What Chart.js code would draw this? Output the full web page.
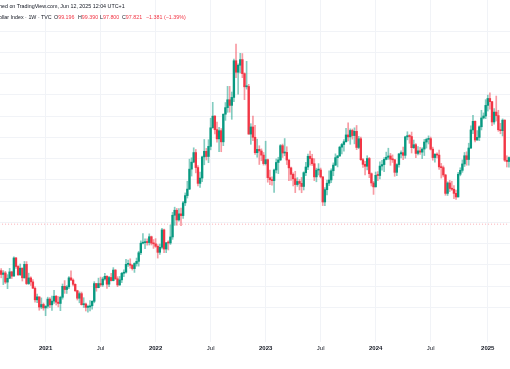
<!DOCTYPE html>
<html>
<head>
<meta charset="utf-8">
<title>U.S. Dollar Index 1W</title>
<script src="https://cdn.jsdelivr.net/npm/chart.js@4.4.1/dist/chart.umd.min.js"></script>
<style>
  html, body { margin: 0; padding: 0; background: #fff; overflow: hidden; }
  #wrap { position: relative; width: 510px; height: 369px; overflow: hidden; }
  #wrap canvas { position: absolute; left: -2px; top: 0; }
  .hdr { position: absolute; font-family: "Liberation Sans", Arial, sans-serif; font-size: 6px; line-height: 6px; color: #131722; white-space: nowrap; transform: scale(0.89); transform-origin: 0 0; }
  .red { color: #f23645; }
</style>
</head>
<body>
<div id="wrap">
  <canvas id="dxyChart" width="512" height="369"></canvas>
  <div class="hdr" style="left:-1px; top:4px">hed on TradingView.com, Jun 12, 2025 12:04 UTC+1</div>
  <div class="hdr" style="left:-1px; top:15px">ollar Index · 1W · TVC</div>
  <div class="hdr" style="left:54px; top:15px">O<span class="red">99.196</span></div>
  <div class="hdr" style="left:78px; top:15px">H<span class="red">99.390</span></div>
  <div class="hdr" style="left:100px; top:15px">L<span class="red">97.800</span></div>
  <div class="hdr" style="left:122px; top:15px">C<span class="red">97.821</span></div>
  <div class="hdr red" style="left:146px; top:15px">−1.381 (−1.39%)</div>
</div>
<script>
// weekly candles, first week starts 2020-08-03
const firstWeek = "2020-08-03";

const opens = [
  93.35, 93.44, 93.09, 93.23, 92.37, 92.73, 93.33, 92.93, 94.64, 93.84, 93.06, 93.68, 92.77, 94.04, 92.23, 92.76, 92.39, 91.79, 90.70, 90.98, 90.02, 90.26,
  89.94, 90.10, 90.77, 90.23, 90.58, 91.04, 90.48, 90.36, 90.94, 91.97, 91.67, 91.92, 92.77, 92.56, 92.16, 91.56, 90.85, 91.28, 90.24, 90.31, 89.99, 90.03, 90.14, 90.56,
  92.23, 91.84, 92.23, 92.11, 92.66, 92.91, 92.17, 92.80, 92.51, 93.50, 92.68, 92.10, 92.58, 93.20, 93.30, 94.04, 94.07, 93.96, 93.64, 94.12, 94.32, 95.13, 96.03, 96.08,
  96.17, 96.09, 96.64, 96.04,
  95.97, 95.74, 95.17, 95.64, 97.28, 95.48, 96.07, 96.05, 96.62, 98.66, 99.13, 98.22, 98.79, 98.63, 99.83, 100.51, 101.12, 103.00, 103.66, 104.56, 103.15, 101.66,
  102.16, 104.15, 104.68, 104.19, 105.14, 106.89, 107.99, 106.72, 105.85, 106.62, 105.57, 108.17, 108.79, 109.53, 109.00, 109.75, 113.20, 112.12, 112.78, 113.31,
  111.99, 110.75, 110.78, 106.30, 106.97, 106.00, 104.55, 104.86, 104.71, 104.32,
  103.52, 103.89, 102.20, 102.01, 101.92, 102.92, 103.63, 103.87, 105.21, 104.52, 104.58, 103.86, 103.12, 102.51, 102.09, 101.55, 101.84, 101.66, 101.37, 102.67,
  103.20, 104.21, 104.00, 103.51, 102.27, 102.91, 102.92, 102.27, 99.91, 101.07, 101.68, 101.98, 102.85, 103.38, 104.08, 104.24, 105.07, 105.32, 105.58, 106.22,
  106.04, 106.64, 106.16, 106.56, 105.04, 105.86, 103.89, 103.45, 103.27, 104.00, 102.57, 101.70,
  101.33, 102.42, 102.40, 103.29, 103.43, 103.92, 104.12, 104.24, 103.94, 103.88, 102.70, 103.43, 104.43, 104.55, 104.30, 106.04, 106.15, 106.07, 105.02, 105.30,
  104.48, 104.72, 104.60, 104.89, 105.55, 105.80, 105.87, 104.88, 104.09, 104.40, 104.32, 103.21, 103.14, 102.45, 100.72, 101.70, 101.18, 101.11, 100.72, 100.38,
  102.52, 102.89, 103.49, 104.26, 103.91, 104.99, 106.69, 107.50, 105.74, 105.99, 106.99, 107.82, 108.00,
  109.00, 109.65, 109.35, 107.44, 108.37, 108.04, 106.71, 106.62, 107.61, 103.84, 103.72
];

const highs = [
  93.85, 93.64, 93.45, 93.38, 93.07, 93.66, 93.39, 94.74, 94.70, 93.92, 94.07, 93.70, 94.31, 94.30, 93.21, 92.87, 92.60, 91.93, 91.23, 90.98, 90.88, 90.40,
  90.14, 90.95, 90.90, 91.05, 91.60, 91.11, 91.01, 91.04, 92.19, 92.51, 92.04, 92.89, 93.44, 92.68, 92.21, 91.60, 91.45, 91.43, 90.90, 90.40, 90.20, 90.63, 90.63, 92.41,
  92.25, 92.74, 92.84, 92.83, 93.19, 92.99, 92.90, 93.19, 93.73, 93.55, 92.88, 92.90, 93.28, 93.53, 94.50, 94.45, 94.56, 94.00, 94.19, 94.63, 95.27, 96.25, 96.94, 96.45,
  96.44, 96.91, 96.70, 96.37,
  96.46, 95.90, 95.94, 97.44, 97.37, 96.10, 96.26, 97.74, 98.93, 99.42, 99.30, 99.29, 99.34, 99.97, 100.76, 101.86, 103.94, 104.07, 105.01, 104.85, 103.33, 102.73,
  104.23, 105.79, 104.95, 105.77, 107.79, 109.29, 108.04, 107.43, 106.93, 106.82, 108.20, 109.27, 110.79, 110.79, 110.26, 113.35, 114.78, 112.92, 113.90, 113.88,
  112.07, 113.15, 110.98, 107.28, 107.99, 107.13, 105.82, 105.20, 104.91, 104.57,
  105.63, 103.95, 102.90, 102.27, 103.01, 103.96, 104.12, 105.32, 105.36, 105.88, 105.11, 103.88, 103.20, 102.65, 102.80, 102.20, 102.02, 102.22, 102.75, 103.63,
  104.42, 104.70, 104.40, 103.98, 103.09, 103.52, 103.10, 102.30, 101.27, 101.96, 102.84, 103.03, 103.59, 104.44, 104.29, 105.16, 105.43, 105.78, 106.84, 107.35,
  106.79, 106.77, 106.89, 107.11, 106.09, 106.01, 104.01, 103.73, 104.26, 104.10, 102.65, 101.85,
  102.73, 102.77, 103.69, 103.82, 104.09, 104.60, 104.97, 104.48, 104.34, 103.91, 103.51, 104.49, 104.73, 105.07, 106.10, 106.52, 106.25, 106.49, 105.74, 105.41,
  105.12, 105.05, 105.02, 105.80, 105.91, 106.13, 106.02, 105.07, 104.46, 104.54, 104.79, 103.54, 103.30, 102.52, 101.81, 101.94, 101.86, 101.46, 101.02, 102.69,
  103.13, 103.87, 104.57, 104.63, 105.44, 107.07, 108.07, 107.55, 106.63, 107.08, 108.54, 108.29, 109.54,
  109.97, 110.18, 109.39, 108.71, 109.88, 108.54, 107.31, 107.73, 107.65, 104.26, 104.16
];

const lows = [
  92.52, 92.77, 92.13, 92.23, 91.75, 92.70, 92.70, 92.92, 93.65, 92.97, 92.98, 92.47, 92.74, 92.13, 92.14, 92.05, 91.78, 90.47, 90.43, 89.72, 89.86, 89.72,
  89.21, 89.92, 89.97, 89.70, 90.36, 90.21, 90.03, 89.68, 90.76, 91.31, 91.30, 91.76, 92.53, 92.00, 91.46, 90.68, 90.42, 90.20, 89.98, 89.65, 89.53, 89.66, 89.81, 90.42,
  91.51, 91.83, 91.95, 91.96, 92.54, 91.78, 91.94, 92.47, 92.48, 92.61, 91.94, 92.06, 92.32, 92.88, 93.21, 93.84, 93.67, 93.50, 93.28, 93.87, 93.87, 94.95, 95.97, 95.51,
  95.84, 95.86, 95.86, 95.54,
  95.64, 94.63, 94.98, 95.50, 95.14, 95.14, 95.39, 95.91, 96.39, 97.71, 97.72, 98.10, 97.69, 98.35, 99.57, 100.28, 101.07, 102.35, 103.60, 102.65, 101.43, 101.29,
  101.81, 103.41, 103.86, 103.61, 104.82, 106.86, 106.32, 105.53, 104.64, 104.64, 105.21, 107.59, 108.35, 108.36, 107.69, 109.36, 111.61, 110.06, 112.05, 111.61,
  109.54, 110.53, 106.28, 105.34, 105.67, 104.38, 104.12, 103.44, 103.79, 103.38,
  103.39, 101.77, 101.53, 101.50, 100.82, 102.64, 102.58, 103.79, 104.10, 104.26, 103.43, 101.92, 101.93, 101.43, 100.79, 101.38, 101.04, 100.78, 101.04, 102.38,
  102.95, 103.37, 103.34, 101.92, 101.81, 102.45, 102.17, 99.57, 99.55, 100.58, 101.44, 101.73, 102.38, 103.33, 103.21, 104.20, 104.43, 104.69, 105.53, 105.66,
  105.34, 105.82, 105.38, 104.84, 104.92, 103.81, 103.17, 102.46, 102.93, 102.20, 101.41, 100.62,
  101.33, 101.92, 102.07, 102.91, 102.77, 103.87, 103.92, 103.36, 103.63, 102.33, 102.39, 103.18, 104.06, 103.88, 104.03, 105.76, 105.43, 104.52, 104.94, 104.08,
  104.35, 104.38, 103.99, 104.28, 104.98, 105.37, 104.80, 103.84, 103.65, 104.06, 102.97, 102.16, 102.27, 100.54, 100.52, 100.88, 100.99, 100.21, 100.16, 100.38,
  102.37, 102.70, 103.25, 103.37, 103.37, 104.93, 106.35, 105.57, 105.72, 105.68, 106.69, 107.73, 107.75,
  108.47, 108.64, 107.08, 107.23, 107.53, 106.56, 106.33, 106.12, 103.72, 103.20, 103.19
];

const closes = [
  93.44, 93.09, 93.23, 92.37, 92.73, 93.33, 92.93, 94.64, 93.84, 93.06, 93.68, 92.77, 94.04, 92.23, 92.76, 92.39, 91.79, 90.70, 90.98, 90.02, 90.26, 89.94,
  90.10, 90.77, 90.23, 90.58, 91.04, 90.48, 90.36, 90.94, 91.97, 91.67, 91.92, 92.77, 92.56, 92.16, 91.56, 90.85, 91.28, 90.24, 90.31, 89.99, 90.03, 90.14, 90.56, 92.23,
  91.84, 92.23, 92.11, 92.66, 92.91, 92.17, 92.80, 92.51, 93.50, 92.68, 92.10, 92.58, 93.20, 93.30, 94.04, 94.07, 93.96, 93.64, 94.12, 94.32, 95.13, 96.03, 96.08, 96.17,
  96.09, 96.64, 96.04, 95.97,
  95.74, 95.17, 95.64, 97.28, 95.48, 96.07, 96.05, 96.62, 98.66, 99.13, 98.22, 98.79, 98.63, 99.83, 100.51, 101.12, 103.00, 103.66, 104.56, 103.15, 101.66, 102.16,
  104.15, 104.68, 104.19, 105.14, 106.89, 107.99, 106.72, 105.85, 106.62, 105.57, 108.17, 108.79, 109.53, 109.00, 109.75, 113.20, 112.12, 112.78, 113.31, 111.99,
  110.75, 110.78, 106.30, 106.97, 106.00, 104.55, 104.86, 104.71, 104.32, 103.52,
  103.89, 102.20, 102.01, 101.92, 102.92, 103.63, 103.87, 105.21, 104.52, 104.58, 103.86, 103.12, 102.51, 102.09, 101.55, 101.84, 101.66, 101.37, 102.67, 103.20,
  104.21, 104.00, 103.51, 102.27, 102.91, 102.92, 102.27, 99.91, 101.07, 101.68, 101.98, 102.85, 103.38, 104.08, 104.24, 105.07, 105.32, 105.58, 106.22, 106.04,
  106.64, 106.16, 106.56, 105.04, 105.86, 103.89, 103.45, 103.27, 104.00, 102.57, 101.70, 101.33,
  102.42, 102.40, 103.29, 103.43, 103.92, 104.12, 104.24, 103.94, 103.88, 102.70, 103.43, 104.43, 104.55, 104.30, 106.04, 106.15, 106.07, 105.02, 105.30, 104.48,
  104.72, 104.60, 104.89, 105.55, 105.80, 105.87, 104.88, 104.09, 104.40, 104.32, 103.21, 103.14, 102.45, 100.72, 101.70, 101.18, 101.11, 100.72, 100.38, 102.52,
  102.89, 103.49, 104.26, 103.91, 104.99, 106.69, 107.50, 105.74, 105.99, 106.99, 107.82, 108.00, 109.00,
  109.65, 109.35, 107.44, 108.37, 108.04, 106.71, 106.62, 107.61, 103.84, 103.72, 104.09
];

const lastPrice = 97.821;

const upColor = "#089981";
const downColor = "#f23645";

// week labels
const weeks = [];
const start = new Date(firstWeek + "T00:00:00Z");
for (let i = 0; i < closes.length; i++) {
  const d = new Date(start.getTime() + i * 7 * 86400000);
  weeks.push(d.toISOString().slice(0, 10));
}

// time axis ticks: first week of January (year) and July
const tickIdx = [];
const tickText = {};
weeks.forEach((w, i) => {
  if (i === 0) return;
  const m = w.slice(5, 7);
  if (m !== weeks[i - 1].slice(5, 7) && (m === "01" || m === "07")) {
    tickIdx.push(i);
    tickText[i] = m === "01" ? w.slice(0, 4) : "Jul";
  }
});

const bodyColors = closes.map((c, i) => c >= opens[i] ? upColor : downColor);
const wickColors = closes.map((c, i) => c >= opens[i] ? "rgba(8,153,129,0.5)" : "rgba(242,54,69,0.5)");
const gridColor = "#f1f3f7";

const ctx = document.getElementById("dxyChart").getContext("2d");
const chart = new Chart(ctx, {
  type: "bar",
  data: {
    labels: weeks,
    datasets: [
      {
        type: "line",
        label: "last",
        data: weeks.map(() => lastPrice),
        borderColor: "rgba(242,54,69,0.4)",
        borderWidth: 1,
        borderDash: [1, 2],
        pointRadius: 0,
        order: 3
      },
      {
        label: "wick",
        data: lows.map((l, i) => [l, highs[i]]),
        backgroundColor: wickColors,
        barThickness: 1,
        grouped: false,
        order: 2
      },
      {
        label: "body",
        data: opens.map((o, i) => [o, closes[i]]),
        backgroundColor: bodyColors,
        barThickness: 1.7,
        minBarLength: 1,
        grouped: false,
        order: 1
      }
    ]
  },
  options: {
    responsive: false,
    animation: false,
    layout: { padding: 0 },
    plugins: {
      legend: { display: false },
      tooltip: { enabled: false }
    },
    scales: {
      x: {
        afterBuildTicks: (scale) => {
          scale.ticks = tickIdx.map(i => ({ value: i }));
        },
        afterFit: (scale) => { scale.height = 27; },
        border: { display: false },
        grid: { color: gridColor, offset: false, drawTicks: false },
        ticks: {
          autoSkip: false,
          maxRotation: 0,
          padding: 3,
          color: "#131722",
          font: (c) => ({
            family: "'Liberation Sans', Arial, sans-serif",
            size: 6,
            weight: c.tick && tickText[c.tick.value] !== "Jul" ? "bold" : "normal"
          }),
          callback: (value) => tickText[value] || ""
        }
      },
      y: {
        min: 86.73,
        max: 118.92,
        afterFit: (scale) => { scale.width = 0; },
        border: { display: false },
        grid: {
          drawTicks: false,
          color: (c) => c.tick && Math.abs(c.tick.value % 2) < 1e-6 ? gridColor : "rgba(0,0,0,0)"
        },
        ticks: { display: false, stepSize: 2 }
      }
    }
  }
});
</script>
</body>
</html>
